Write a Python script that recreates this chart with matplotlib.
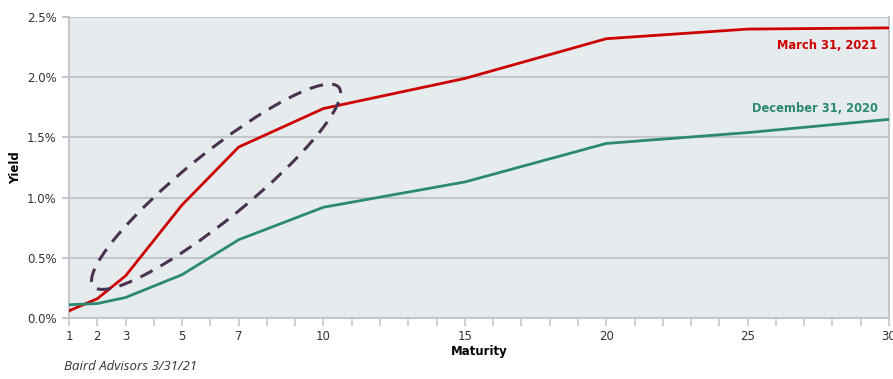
import matplotlib.pyplot as plt
from matplotlib.patches import Ellipse
from matplotlib.transforms import ScaledTranslation
from matplotlib.ticker import FuncFormatter

# Data (yield in %)
maturity = [1, 2, 3, 5, 7, 10, 15, 20, 25, 30]
yield_mar_2021 = [0.06, 0.16, 0.35, 0.94, 1.42, 1.74, 1.99, 2.32, 2.40, 2.41]
yield_dec_2020 = [0.11, 0.12, 0.17, 0.36, 0.65, 0.92, 1.13, 1.45, 1.54, 1.65]
x_labels = [1, 2, 3, 5, 7, 10, 15, 20, 25, 30]
y_ticks = [0.0, 0.5, 1.0, 1.5, 2.0, 2.5]

RED = "#cc0000"
GREEN = "#2b8a70"
GRID = "#c3c7cb"
TEXT = "#333333"

fig = plt.figure(figsize=(8.93, 3.79), dpi=100)
ax = fig.add_axes([0.0773, 0.161, 0.9182, 0.794])
ax.set_facecolor("#e6ebee")

ax.plot(maturity, yield_mar_2021, color=RED, lw=2.0, zorder=3)
ax.plot(maturity, yield_dec_2020, color=GREEN, lw=2.0, zorder=3)

ax.set_xlim(1, 30)
ax.set_ylim(0, 2.5)
ax.set_xticks(x_labels)
ax.set_xticks(range(1, 31), minor=True)
ax.set_yticks(y_ticks)
ax.yaxis.set_major_formatter(FuncFormatter(lambda v, p: f"{v:.1f}%"))

ax.grid(axis="y", color=GRID, lw=1.5, zorder=1)
ax.set_axisbelow(True)
for side in ["left", "right", "bottom", "top"]:
    ax.spines[side].set_color(GRID)
    ax.spines[side].set_linewidth(1.5)
ax.spines["top"].set_visible(False)

ax.tick_params(axis="x", which="both", length=6, width=1.2, color=GRID,
               labelsize=8.5, labelcolor=TEXT, pad=3)
ax.tick_params(axis="y", length=5, width=1.5, color=GRID,
               labelsize=8.5, labelcolor=TEXT, pad=4)

ax.set_xlabel("Maturity", fontsize=8.5, fontweight="bold", labelpad=1)
ax.set_ylabel("Yield", fontsize=8.5, fontweight="bold", labelpad=3)

ax.text(29.6, 2.26, "March 31, 2021", color=RED, fontsize=8.3, fontweight="bold",
        ha="right", va="center")
ax.text(29.6, 1.74, "December 31, 2020", color=GREEN, fontsize=8.3, fontweight="bold",
        ha="right", va="center")

# dashed loop highlighting the 2-10 year segment
centre = (6.2, 1.09)
loop = Ellipse((0, 0), 3.16, 0.66, angle=39,
               transform=fig.dpi_scale_trans + ScaledTranslation(*centre, ax.transData),
               fill=False, edgecolor="#4a3350", lw=2.2, linestyle=(0, (4.5, 3)), zorder=4)
ax.add_patch(loop)

fig.text(0.072, 0.024, "Baird Advisors 3/31/21", fontsize=9.5, style="italic",
         color=TEXT, family="Open Sans")

fig.savefig("out.png", dpi=100)
